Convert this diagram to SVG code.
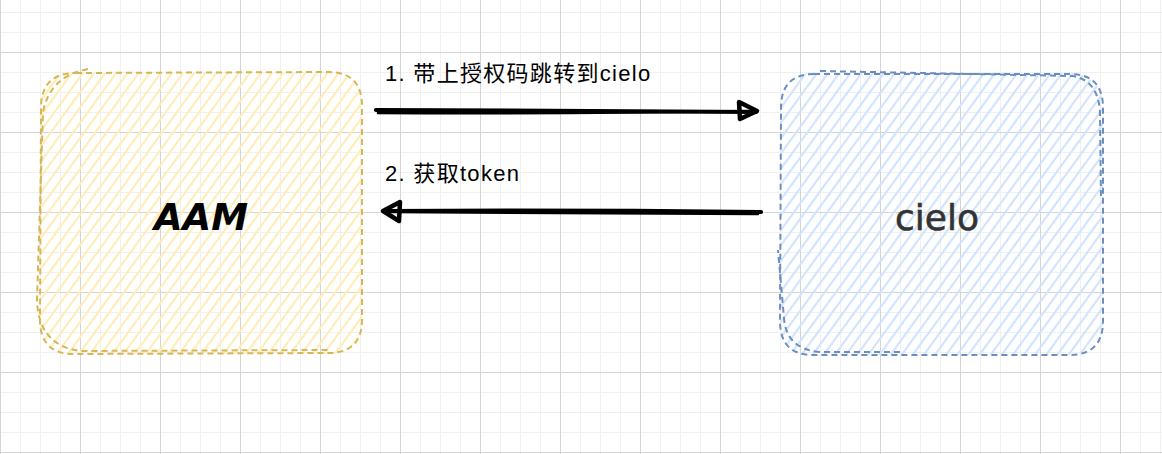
<svg xmlns="http://www.w3.org/2000/svg" width="1162" height="454" viewBox="0 0 1162 454">
<defs>
<pattern id="grid" patternUnits="userSpaceOnUse" x="0" y="12" width="80" height="80">
<rect x="0" y="0" width="80" height="80" fill="#ffffff"/>
<g fill="#f0f0f0">
<rect x="20" y="0" width="1" height="80"/><rect x="40" y="0" width="1" height="80"/><rect x="60" y="0" width="1" height="80"/>
<rect x="0" y="0" width="80" height="1"/><rect x="0" y="20" width="80" height="1"/><rect x="0" y="60" width="80" height="1"/>
</g>
<g fill="#d4d4d4">
<rect x="0" y="0" width="1" height="80"/>
<rect x="0" y="40" width="80" height="1"/>
</g>
</pattern>
<pattern id="hY" patternUnits="userSpaceOnUse" width="9" height="9" patternTransform="rotate(36)">
<line x1="2" y1="-2" x2="2" y2="11" stroke="#ffedb8" stroke-width="2.2"/>
</pattern>
<pattern id="hB" patternUnits="userSpaceOnUse" width="9" height="9" patternTransform="rotate(36)">
<line x1="2" y1="-2" x2="2" y2="11" stroke="#d2e3fb" stroke-width="2.2"/>
</pattern>
<style>
.lbl{font-family:"Liberation Sans","Noto Sans CJK SC",sans-serif;font-size:22px;letter-spacing:1.3px;fill:#000}
.ol{fill:none;stroke-width:2;stroke-dasharray:6 4}
.arr{fill:none;stroke:#000;stroke-linecap:round;stroke-linejoin:round}
</style>
</defs>
<rect x="0" y="0" width="1162" height="454" fill="url(#grid)"/>
<g id="node-aam">
<rect x="40" y="73" width="322" height="281" rx="32" fill="url(#hY)"/>
<path class="ol" stroke="#d6b656" d="M76 73 L328 72 Q362 72 362 106 L362 320 Q362 353 328 353 L74 354 Q40 354 40 320 L41 108 Q41 73 76 73 Z"/>
<path class="ol" stroke="#d6b656" d="M88 69 Q50 76 43 112 L37 300 Q38 345 80 351 L330 350"/>
<text x="201" y="230" text-anchor="middle" font-family="DejaVu Sans" font-weight="bold" font-style="oblique" font-size="37" fill="#000">AAM</text>
</g>
<g id="node-cielo">
<rect x="780" y="73" width="323" height="282" rx="32" fill="url(#hB)"/>
<path class="ol" stroke="#6c8ebf" d="M814 74 L1070 74 Q1103 74 1103 108 L1103 321 Q1103 355 1069 355 L813 355 Q780 355 780 321 L781 108 Q781 74 814 74 Z"/>
<path class="ol" stroke="#6c8ebf" d="M820 71 L1072 76 Q1099 80 1100 114 L1101 200"/>
<path class="ol" stroke="#6c8ebf" d="M900 352 L820 352 Q786 349 784 318 L778 250"/>
<text x="937" y="230" text-anchor="middle" font-family="DejaVu Sans" font-size="36" fill="#333333" stroke="#333333" stroke-width="0.6">cielo</text>
</g>
<g id="connectors">
<path class="arr" stroke-width="4.2" d="M376 110 Q560 111 756 112"/>
<path class="arr" stroke-width="2.5" d="M378 113 Q560 114 750 111"/>
<path class="arr" stroke-width="4.5" d="M739 102 L757 111 L740 119 Z"/>
<path class="arr" stroke-width="4.2" d="M761 212 Q570 210 384 211"/>
<path class="arr" stroke-width="2.5" d="M758 214 Q570 213 390 212"/>
<path class="arr" stroke-width="4.5" d="M400 202 L383 211 L399 221 Z"/>
</g>
<text class="lbl" x="385" y="81">1. 带上授权码跳转到cielo</text>
<text class="lbl" x="385" y="181">2. 获取token</text>
</svg>
